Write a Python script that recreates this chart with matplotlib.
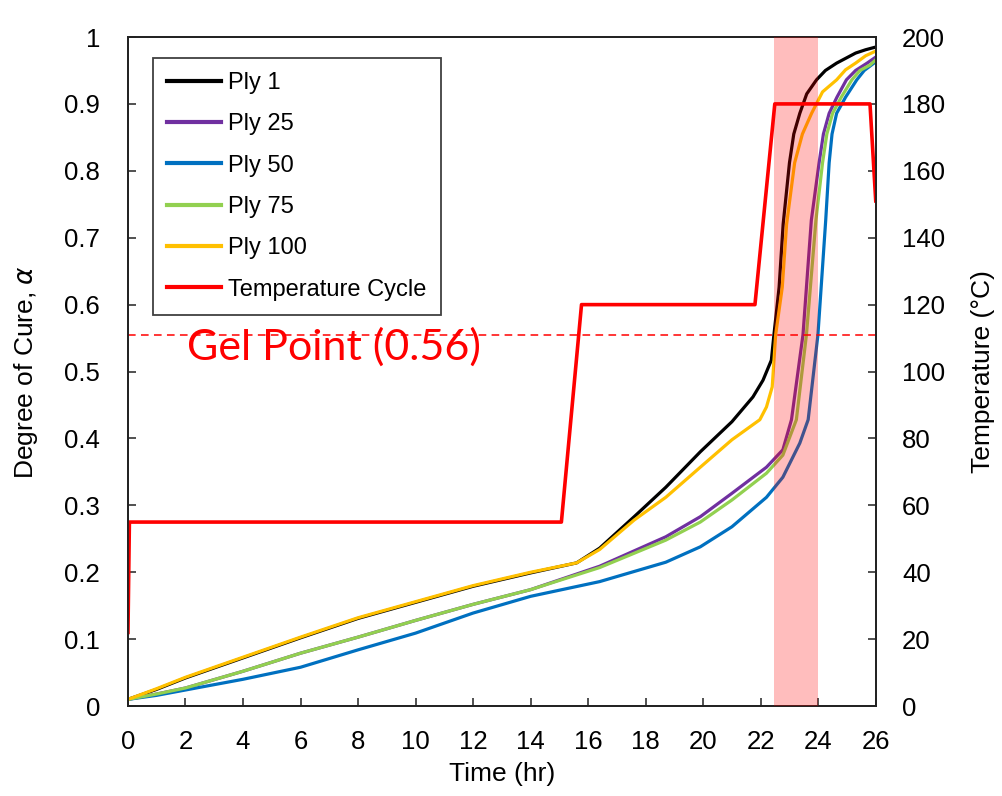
import matplotlib
matplotlib.use('Agg')
import matplotlib.pyplot as plt
from matplotlib.ticker import MultipleLocator, FuncFormatter

plt.rcParams['font.family'] = ['Liberation Sans', 'DejaVu Sans']

# Degree of cure vs time for each ply
t_ply1 = [0, 1, 2, 4, 6, 8, 10, 12, 14, 15.6, 16.4, 17.6, 18.7, 19.9, 21.0, 21.73, 22.08,
          22.37, 22.46, 22.64, 22.78, 23.0, 23.15, 23.36, 23.6, 23.94, 24.25, 24.64, 25.3, 25.65, 26]
a_ply1 = [0.01, 0.025, 0.042, 0.072, 0.102, 0.131, 0.155, 0.179, 0.199, 0.214, 0.236, 0.283, 0.327,
          0.380, 0.425, 0.462, 0.487, 0.517, 0.555, 0.626, 0.72, 0.812, 0.855, 0.886, 0.915, 0.936,
          0.95, 0.961, 0.976, 0.981, 0.985]

t_ply25 = [0, 1, 2, 4, 6, 8, 10, 12, 14, 16.4, 18.7, 19.9, 21.0, 22.2, 22.77, 23.07, 23.47,
           23.76, 24.03, 24.18, 24.38, 24.65, 24.98, 25.3, 25.7, 26]
a_ply25 = [0.01, 0.018, 0.027, 0.052, 0.079, 0.103, 0.128, 0.152, 0.174, 0.209, 0.253, 0.283, 0.318,
           0.357, 0.383, 0.428, 0.555, 0.726, 0.812, 0.855, 0.886, 0.91, 0.936, 0.95, 0.961, 0.970]

t_ply50 = [0, 1, 2, 4, 6, 8, 10, 12, 14, 16.4, 18.7, 19.9, 21.0, 22.2, 22.77, 23.36, 23.65,
           23.99, 24.26, 24.38, 24.48, 24.64, 24.95, 25.34, 25.6, 26]
a_ply50 = [0.01, 0.016, 0.024, 0.040, 0.058, 0.084, 0.109, 0.139, 0.164, 0.186, 0.215, 0.238, 0.268,
           0.312, 0.342, 0.393, 0.428, 0.555, 0.726, 0.812, 0.855, 0.886, 0.91, 0.936, 0.95, 0.963]

t_ply75 = [0, 1, 2, 4, 6, 8, 10, 12, 14, 16.4, 18.7, 19.9, 21.0, 22.2, 22.77, 23.24, 23.59,
           23.92, 24.15, 24.3, 24.5, 24.8, 25.17, 25.45, 25.8, 26]
a_ply75 = [0.01, 0.018, 0.027, 0.052, 0.079, 0.103, 0.128, 0.152, 0.174, 0.207, 0.248, 0.275, 0.308,
           0.348, 0.375, 0.428, 0.555, 0.726, 0.812, 0.855, 0.886, 0.91, 0.936, 0.95, 0.958, 0.966]

t_ply100 = [0, 1, 2, 4, 6, 8, 10, 12, 14, 15.6, 16.4, 17.6, 18.7, 19.9, 21.0, 21.97, 22.2, 22.4,
            22.52, 22.75, 22.9, 23.18, 23.45, 23.77, 24.15, 24.64, 24.95, 25.3, 25.65, 26]
a_ply100 = [0.01, 0.026, 0.043, 0.073, 0.103, 0.132, 0.156, 0.180, 0.200, 0.214, 0.234, 0.278, 0.312,
            0.357, 0.398, 0.428, 0.447, 0.477, 0.555, 0.626, 0.72, 0.812, 0.855, 0.886, 0.918, 0.936,
            0.951, 0.961, 0.972, 0.979]

# Oven temperature cycle (deg C)
t_temp = [0, 0.05, 15.07, 15.77, 21.8, 22.49, 25.8, 26]
temp = [22, 55, 55, 120, 120, 180, 180, 151]

gel_point = 0.555
gel_window = (22.45, 24.0)

fig, ax = plt.subplots(figsize=(10.02, 7.96), dpi=100)
fig.subplots_adjust(left=0.1277, right=0.874, bottom=0.113, top=0.9535)
ax2 = ax.twinx()

lw = 2.3
h1, = ax.plot(t_ply1, a_ply1, color='black', lw=lw, label='Ply 1')
h25, = ax.plot(t_ply25, a_ply25, color='#7030A0', lw=lw, label='Ply 25')
h50, = ax.plot(t_ply50, a_ply50, color='#0070C0', lw=lw, label='Ply 50')
h75, = ax.plot(t_ply75, a_ply75, color='#92D050', lw=lw, label='Ply 75')
h100, = ax.plot(t_ply100, a_ply100, color='#FFC000', lw=lw, label='Ply 100')
ax.axhline(gel_point, color='red', lw=1.1, ls=(0, (5, 3.5)))
ax.text(2.05, 0.537, 'Gel Point ({:.2f})'.format(gel_point), color='red', fontsize=31,
        family=['Lato', 'DejaVu Sans'], va='center', ha='left')

hT, = ax2.plot(t_temp, temp, color='red', lw=2.6, label='Temperature Cycle')
ax2.axvspan(gel_window[0], gel_window[1], color='red', alpha=0.26, lw=0, zorder=5)

ax.set_xlim(0, 26)
ax.set_ylim(0, 1)
ax2.set_ylim(0, 200)
ax.xaxis.set_major_locator(MultipleLocator(2))
ax.yaxis.set_major_locator(MultipleLocator(0.1))
ax.yaxis.set_major_formatter(FuncFormatter(lambda v, p: '{:g}'.format(round(v, 2))))
ax2.yaxis.set_major_locator(MultipleLocator(20))

ax.tick_params(axis='both', direction='in', length=6, width=1.2, labelsize=18.5, color='#333333')
ax.tick_params(axis='y', pad=20)
ax.tick_params(axis='x', pad=17)
ax2.tick_params(axis='y', direction='in', length=6, width=1.2, labelsize=18.5, pad=19, color='#333333')

for a in (ax, ax2):
    for s in a.spines.values():
        s.set_linewidth(1.3)
        s.set_color('#222222')

ax.set_xlabel('Time (hr)', fontsize=19)
ax.set_ylabel(r'Degree of Cure, $\alpha$', fontsize=19)
ax2.set_ylabel('Temperature (°C)', fontsize=19)
ax.xaxis.set_label_coords(0.5, -0.083)
ax.yaxis.set_label_coords(-0.117, 0.5)
ax2.yaxis.set_label_coords(1.128, 0.5)

leg = ax2.legend([h1, h25, h50, h75, h100, hT],
                 ['Ply 1', 'Ply 25', 'Ply 50', 'Ply 75', 'Ply 100', 'Temperature Cycle'],
                 loc='upper left', bbox_to_anchor=(0.033, 0.969), fontsize=17,
                 frameon=True, fancybox=False, edgecolor='#404040', framealpha=1,
                 labelspacing=0.82, handlelength=2.3, handletextpad=0.3,
                 borderpad=0.6, borderaxespad=0)
leg.get_frame().set_linewidth(1.3)
leg.set_zorder(10)
for line in leg.get_lines():
    line.set_linewidth(3)

fig.savefig('out.png', dpi=100)
